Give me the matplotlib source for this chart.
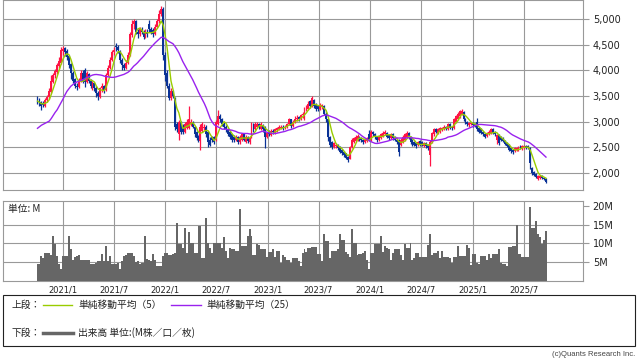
import numpy as np
import pandas as pd
import matplotlib
matplotlib.use("Agg")
import matplotlib.pyplot as plt
import matplotlib.dates as mdates
from matplotlib.lines import Line2D
from matplotlib.ticker import FuncFormatter

# weekly candles, first week ending 2020-10-02
opens = [
    3450, 3420, 3380, 3360, 3300, 3420, 3470, 3580, 3780, 3900,
    3960, 4080, 4150, 4380, 4430, 4380, 4280, 4120, 3950, 3820,
    3700, 3680, 3800, 3950, 4000, 3780, 3920, 3800, 3700, 3750,
    3650, 3560, 3480, 3650, 3700, 3620, 3900, 4050, 4200, 4350,
    4480, 4450, 4380, 4200, 4100, 4050, 4150, 4300, 4680, 4900,
    4950, 4750, 4700, 4800, 4750, 4650, 4750, 4900, 4800, 4780,
    4700, 4850, 4950, 5100, 5200, 4300, 3950, 3700, 3450, 3600,
    3450, 2950, 2750, 3000, 2900, 2800, 2880, 2870, 2950, 3000,
    2900, 2800, 2700, 2620, 2820, 2870, 2900, 2800, 2650, 2700,
    2700, 2650, 2950, 3100, 3050, 2950, 2900, 2850, 2800, 2750,
    2700, 2650, 2700, 2600, 2650, 2750, 2600, 2700, 2600, 2700,
    2950, 2850, 2900, 2950, 2850, 2920, 2900, 2700, 2780, 2740,
    2820, 2780, 2830, 2850, 2880, 2900, 2870, 2890, 2950, 3050,
    2920, 3000, 3050, 3090, 3060, 3120, 3080, 3250, 3250, 3400,
    3300, 3420, 3340, 3300, 3250, 3280, 3300, 3150, 3050, 2700,
    2600, 2500, 2520, 2550, 2500, 2450, 2400, 2380, 2320, 2280,
    2500, 2600, 2620, 2650, 2700, 2680, 2650, 2600, 2620, 2750,
    2650, 2800, 2750, 2700, 2650, 2680, 2720, 2750, 2780, 2730,
    2680, 2750, 2700, 2650, 2650, 2550, 2600, 2650, 2700, 2780,
    2700, 2650, 2600, 2580, 2550, 2620, 2600, 2530, 2580, 2550,
    2350, 2600, 2750, 2850, 2780, 2800, 2830, 2850, 2900, 2850,
    2950, 2900, 2880, 3000, 3050, 3100, 3150, 3180, 3050, 3000,
    2930, 2950, 2980, 2950, 3000, 2880, 2850, 2800, 2750, 2720,
    2750, 2780, 2850, 2800, 2650, 2730, 2700, 2680, 2620, 2580,
    2550, 2480, 2450, 2420, 2440, 2450, 2520, 2470, 2480, 2530,
    2520, 2480, 2100, 2020, 1980, 1880, 1900, 1940, 1910, 1880,
]
highs = [
    3500, 3460, 3400, 3400, 3450, 3520, 3650, 3900, 3950, 4020,
    4150, 4250, 4450, 4480, 4460, 4420, 4300, 4150, 3980, 3850,
    3760, 3850, 4000, 4000, 4050, 3980, 3950, 3830, 3790, 3780,
    3700, 3600, 3680, 3750, 3720, 3950, 4100, 4250, 4400, 4450,
    4530, 4500, 4400, 4230, 4150, 4200, 4350, 4750, 4980, 5000,
    4980, 4800, 4850, 4850, 4780, 4800, 4800, 4980, 4850, 4820,
    4900, 5000, 5180, 5250, 5230, 4350, 4000, 3750, 3650, 3620,
    3480, 3000, 3040, 3020, 2950, 3000, 3050, 3300, 3060, 3020,
    2920, 2820, 2730, 2950, 3000, 2950, 2930, 2820, 2700, 2720,
    2720, 3030, 3230, 3150, 3080, 2990, 2930, 2870, 2820, 2760,
    2730, 2740, 2720, 2730, 2780, 2770, 2730, 2720, 2700, 2990,
    2980, 3000, 3000, 2980, 2990, 2950, 2920, 2800, 2830, 2850,
    2850, 2870, 2900, 2930, 2940, 2930, 2930, 2980, 3080, 3060,
    3030, 3100, 3120, 3110, 3150, 3180, 3290, 3320, 3400, 3430,
    3500, 3440, 3360, 3330, 3360, 3350, 3320, 3180, 3060, 2720,
    2620, 2600, 2580, 2570, 2520, 2470, 2420, 2390, 2340, 2530,
    2680, 2700, 2730, 2760, 2720, 2700, 2670, 2680, 2700, 2840,
    2830, 2820, 2770, 2720, 2730, 2780, 2810, 2840, 2800, 2750,
    2780, 2770, 2720, 2680, 2660, 2680, 2730, 2780, 2820, 2800,
    2720, 2660, 2620, 2600, 2630, 2640, 2620, 2600, 2600, 2570,
    2650, 2800, 2880, 2870, 2870, 2890, 2900, 2930, 2920, 2970,
    2970, 2920, 3080, 3130, 3180, 3230, 3240, 3200, 3070, 3020,
    2990, 3000, 3000, 2970, 3070, 2900, 2870, 2820, 2780, 2800,
    2830, 2870, 2870, 2820, 2760, 2750, 2720, 2700, 2640, 2600,
    2570, 2500, 2470, 2500, 2510, 2520, 2540, 2540, 2550, 2550,
    2540, 2500, 2120, 2040, 2000, 1970, 1960, 1960, 1930, 1900,
]
lows = [
    3350, 3300, 3230, 3280, 3280, 3380, 3440, 3560, 3750, 3850,
    3920, 4050, 4120, 4300, 4280, 4200, 4050, 3820, 3750, 3650,
    3620, 3650, 3780, 3750, 3680, 3750, 3760, 3650, 3620, 3600,
    3480, 3420, 3450, 3580, 3560, 3600, 3880, 4020, 4180, 4300,
    4380, 4330, 4150, 4000, 4000, 4020, 4120, 4280, 4650, 4800,
    4700, 4620, 4660, 4700, 4600, 4620, 4650, 4750, 4700, 4650,
    4680, 4820, 4920, 5050, 4200, 3800, 3650, 3420, 3420, 3450,
    2830, 2800, 2650, 2760, 2750, 2780, 2850, 2850, 2920, 2870,
    2700, 2650, 2600, 2450, 2800, 2830, 2700, 2500, 2520, 2600,
    2560, 2630, 2930, 3000, 2920, 2860, 2800, 2720, 2660, 2600,
    2600, 2620, 2560, 2570, 2620, 2620, 2580, 2580, 2570, 2680,
    2800, 2830, 2880, 2860, 2830, 2800, 2480, 2680, 2720, 2720,
    2760, 2760, 2800, 2830, 2850, 2840, 2850, 2870, 2930, 2880,
    2900, 2980, 3020, 3020, 3040, 3080, 3040, 3200, 3220, 3260,
    3280, 3260, 3200, 3210, 3220, 3250, 3120, 3000, 2620, 2500,
    2470, 2480, 2490, 2450, 2380, 2350, 2310, 2270, 2220, 2270,
    2480, 2580, 2600, 2630, 2620, 2610, 2570, 2580, 2600, 2620,
    2630, 2720, 2670, 2600, 2630, 2660, 2700, 2730, 2680, 2650,
    2660, 2650, 2620, 2570, 2330, 2520, 2580, 2630, 2680, 2670,
    2570, 2520, 2520, 2490, 2530, 2520, 2530, 2510, 2490, 2450,
    2130, 2580, 2720, 2770, 2760, 2780, 2810, 2830, 2830, 2830,
    2850, 2840, 2860, 2980, 3030, 3080, 3120, 3020, 2950, 2920,
    2900, 2930, 2900, 2890, 2820, 2770, 2750, 2720, 2680, 2700,
    2730, 2760, 2750, 2720, 2560, 2550, 2620, 2600, 2540, 2500,
    2420, 2380, 2370, 2400, 2420, 2430, 2460, 2450, 2460, 2470,
    2460, 2070, 1970, 1940, 1900, 1870, 1880, 1880, 1860, 1800,
]
closes = [
    3400, 3350, 3300, 3330, 3420, 3480, 3600, 3800, 3900, 3980,
    4100, 4180, 4400, 4420, 4350, 4250, 4100, 3950, 3800, 3700,
    3680, 3800, 3950, 3800, 3780, 3950, 3800, 3700, 3750, 3650,
    3550, 3500, 3650, 3700, 3620, 3900, 4050, 4200, 4350, 4400,
    4450, 4400, 4200, 4100, 4050, 4150, 4300, 4700, 4900, 4950,
    4750, 4700, 4800, 4750, 4650, 4750, 4700, 4800, 4750, 4700,
    4850, 4950, 5100, 5200, 4300, 3900, 3700, 3450, 3600, 3500,
    2900, 2850, 3000, 2800, 2800, 2950, 3000, 3050, 3000, 2900,
    2750, 2680, 2650, 2900, 2950, 2900, 2750, 2600, 2550, 2650,
    2600, 3000, 3100, 3050, 2950, 2900, 2850, 2750, 2700, 2650,
    2650, 2700, 2600, 2700, 2750, 2650, 2700, 2620, 2680, 2950,
    2850, 2950, 2950, 2900, 2950, 2850, 2700, 2780, 2750, 2820,
    2790, 2850, 2870, 2900, 2900, 2870, 2900, 2950, 3050, 2920,
    3000, 3050, 3080, 3060, 3120, 3150, 3250, 3280, 3350, 3300,
    3450, 3300, 3250, 3250, 3330, 3320, 3150, 3050, 2700, 2550,
    2500, 2580, 2550, 2480, 2400, 2380, 2350, 2300, 2260, 2500,
    2650, 2680, 2700, 2720, 2650, 2640, 2600, 2650, 2680, 2650,
    2800, 2750, 2700, 2640, 2700, 2750, 2780, 2800, 2700, 2680,
    2750, 2680, 2650, 2600, 2400, 2650, 2700, 2750, 2780, 2700,
    2600, 2550, 2550, 2520, 2600, 2550, 2560, 2580, 2520, 2480,
    2600, 2780, 2850, 2800, 2850, 2870, 2880, 2900, 2860, 2950,
    2880, 2870, 3050, 3100, 3150, 3200, 3200, 3050, 2980, 2950,
    2970, 2980, 2930, 2920, 2850, 2800, 2780, 2750, 2700, 2780,
    2800, 2850, 2780, 2750, 2740, 2580, 2650, 2620, 2560, 2520,
    2450, 2420, 2400, 2480, 2480, 2500, 2480, 2520, 2530, 2490,
    2480, 2200, 2000, 1960, 1930, 1950, 1940, 1900, 1880, 1820,
]
# weekly volume, millions
volumes = [
    4.6, 4.6, 6.6, 6.0, 7.4, 7.5, 7.5, 7.0, 12.0, 9.8,
    6.6, 4.6, 3.1, 6.7, 6.7, 6.7, 12.0, 8.4, 5.7, 6.3,
    6.6, 7.0, 5.7, 5.7, 5.7, 5.7, 5.7, 4.6, 4.6, 4.4,
    4.9, 5.3, 5.3, 7.2, 5.3, 9.2, 5.3, 6.6, 4.6, 4.6,
    4.6, 4.9, 3.1, 5.3, 6.7, 7.0, 7.5, 7.5, 7.5, 6.7,
    5.0, 5.3, 4.4, 4.9, 4.9, 12.0, 5.8, 5.5, 5.3, 7.2,
    5.5, 4.0, 4.0, 4.0, 6.7, 7.5, 7.5, 7.0, 7.0, 7.2,
    7.5, 15.5, 9.8, 9.8, 8.8, 14.1, 7.5, 13.0, 10.2, 10.2,
    7.5, 7.5, 14.7, 14.7, 6.2, 6.2, 16.8, 10.2, 8.8, 7.5,
    10.2, 10.0, 10.0, 10.0, 8.8, 11.6, 8.0, 6.2, 8.8, 8.4,
    8.4, 8.0, 8.0, 19.1, 9.4, 9.2, 9.2, 12.0, 13.8, 11.9,
    7.0, 7.0, 9.8, 9.6, 8.4, 8.6, 8.6, 6.5, 7.8, 7.8,
    8.4, 6.5, 8.0, 8.0, 4.9, 7.0, 6.5, 5.7, 5.7, 4.9,
    6.2, 6.0, 6.0, 5.3, 3.9, 7.5, 8.4, 7.8, 8.8, 8.8,
    9.1, 9.1, 9.1, 7.2, 7.2, 5.3, 12.4, 10.6, 10.6, 6.2,
    8.0, 8.0, 8.0, 8.4, 12.5, 11.0, 11.0, 7.8, 7.2, 6.5,
    13.8, 10.2, 10.2, 7.0, 7.2, 7.2, 7.5, 8.0, 5.7, 3.1,
    7.5, 7.5, 9.8, 9.8, 9.8, 12.0, 7.8, 9.3, 8.8, 8.6,
    5.7, 7.5, 8.4, 8.4, 8.4, 7.0, 5.7, 9.8, 8.8, 8.8,
    10.2, 5.5, 6.2, 7.5, 7.5, 6.4, 6.4, 6.5, 6.5, 9.5,
    12.4, 7.0, 7.5, 7.5, 7.9, 6.2, 7.9, 6.5, 6.5, 6.5,
    6.2, 4.9, 6.5, 6.5, 9.3, 6.7, 6.7, 6.7, 6.7, 9.6,
    8.8, 4.2, 7.2, 7.2, 4.9, 4.4, 6.7, 6.7, 6.7, 5.5,
    7.2, 6.2, 7.2, 7.2, 7.2, 8.4, 4.9, 4.6, 4.6, 3.9,
    9.1, 9.0, 9.3, 9.3, 14.8, 7.3, 7.3, 6.5, 6.5, 6.3,
    6.3, 19.8, 14.1, 14.1, 16.1, 12.4, 11.7, 9.8, 10.8, 13.4,
]
# 25-week average for the first weeks (history before the window)
ma25_head = [
    2870, 2900, 2930, 2950, 2970, 2990, 3010, 3060, 3120, 3180,
    3230, 3300, 3370, 3440, 3520, 3590, 3640, 3690, 3720, 3750,
    3770, 3785, 3800, 3815,
]
tick_dates = ["2021-01-01", "2021-07-01", "2022-01-01", "2022-07-01", "2023-01-01",
              "2023-07-01", "2024-01-01", "2024-07-01", "2025-01-01", "2025-07-01"]
tick_labels = ["2021/1", "2021/7", "2022/1", "2022/7", "2023/1",
               "2023/7", "2024/1", "2024/7", "2025/1", "2025/7"]

UP = "#ff1446"
DOWN = "#0a3296"
MA5_COL = "#99cc00"
MA25_COL = "#9922ee"
VOL_COL = "#666666"
GRID = "#999999"
JP = ["Noto Sans CJK JP", "DejaVu Sans"]

W, H = 638, 362
plt.rcParams["font.family"] = ["DejaVu Sans", "Noto Sans CJK JP"]

o = np.array(opens, float)
h = np.array(highs, float)
l = np.array(lows, float)
c = np.array(closes, float)
weeks = pd.date_range("2020-10-02", periods=len(c), freq="7D")
s = pd.Series(c, index=weeks)
ma5 = s.rolling(5, min_periods=1).mean()
ma25 = s.rolling(25).mean()
ma25.iloc[:len(ma25_head)] = ma25_head

fig = plt.figure(figsize=(W / 100, H / 100), dpi=100)
ax1 = fig.add_axes([3 / W, 1 - 190 / H, 580 / W, 190 / H])
ax2 = fig.add_axes([3 / W, 1 - 281 / H, 580 / W, 80 / H])

x0 = mdates.date2num(pd.Timestamp("2021-01-01"))
xlim = (x0 - 214, x0 + 1854)
ticks = [pd.Timestamp(t) for t in tick_dates]

# --- price panel
colors = np.where(c >= o, UP, DOWN)
ax1.vlines(weeks, l, h, colors=colors, lw=0.9, zorder=3)
body = np.maximum(np.abs(c - o), 15)
ax1.bar(weeks, body, bottom=np.minimum(o, c), width=6.8, color=colors,
        linewidth=0, zorder=3)
ax1.plot(weeks, ma5.values, color=MA5_COL, lw=1, zorder=4)
ax1.plot(weeks, ma25.values, color=MA25_COL, lw=1, zorder=4)

ax1.set_xlim(xlim)
ax1.set_ylim(1669, 5367)
ax1.set_yticks([2000, 2500, 3000, 3500, 4000, 4500, 5000])
ax1.yaxis.set_major_formatter(FuncFormatter(lambda v, p: f"{v:,.0f}"))
ax1.yaxis.tick_right()
ax1.set_xticks(ticks)
ax1.tick_params(axis="x", length=0, labelbottom=False)
ax1.tick_params(axis="y", length=4, width=0.8, color=GRID, labelsize=7,
                labelcolor="#222222", pad=3)
ax1.grid(True, color=GRID, lw=0.8, zorder=0)
ax1.set_axisbelow(True)

# --- volume panel
ax2.bar(weeks, volumes, width=7.0, color=VOL_COL, linewidth=0, zorder=3)
ax2.set_xlim(xlim)
ax2.set_ylim(0, 21.3)
ax2.set_yticks([5, 10, 15, 20])
ax2.yaxis.set_major_formatter(FuncFormatter(lambda v, p: f"{v:.0f}M"))
ax2.yaxis.tick_right()
for v in (5, 10, 15):
    ax2.axhline(v, color=GRID, lw=0.8, zorder=0)
ax2.set_xticks(ticks)
ax2.set_xticklabels(tick_labels)
ax2.grid(True, axis="x", color=GRID, lw=0.8, zorder=0)
ax2.tick_params(axis="x", length=0, labelsize=6, labelcolor="#222222", pad=3)
ax2.tick_params(axis="y", length=4, width=0.8, color=GRID, labelsize=7,
                labelcolor="#222222", pad=3)
ax2.text(5 / 580, 0.9, "単位: M", transform=ax2.transAxes, fontsize=7,
         family=JP, ha="left", va="center", color="#222222")

for ax in (ax1, ax2):
    for sp in ax.spines.values():
        sp.set_color(GRID)
        sp.set_linewidth(0.8)

# --- legend box
box = plt.Rectangle((3 / W, 1 - 346 / H), 632 / W, 51 / H, transform=fig.transFigure,
                    fill=False, edgecolor="#222222", lw=0.8)
fig.patches.append(box)


def fx(x):
    return x / W


def fy(y):
    return 1 - y / H


fig.text(fx(12), fy(305), "上段：", family=JP, fontsize=7, va="center", color="#222222")
fig.lines.append(Line2D([fx(43), fx(72)], [fy(305), fy(305)], transform=fig.transFigure,
                        color=MA5_COL, lw=1))
fig.text(fx(78), fy(305), "単純移動平均（5）", family=JP, fontsize=7, va="center",
         color="#222222")
fig.lines.append(Line2D([fx(171), fx(201)], [fy(305), fy(305)], transform=fig.transFigure,
                        color=MA25_COL, lw=1))
fig.text(fx(206), fy(305), "単純移動平均（25）", family=JP, fontsize=7, va="center",
         color="#222222")
fig.text(fx(12), fy(333), "下段：", family=JP, fontsize=7, va="center", color="#222222")
fig.lines.append(Line2D([fx(43), fx(73)], [fy(333), fy(333)], transform=fig.transFigure,
                        color=VOL_COL, lw=2.5))
fig.text(fx(78), fy(333), "出来高 単位:(M株／口／枚)", family=JP, fontsize=7,
         va="center", color="#222222")

fig.text(fx(635), fy(355), "(c)Quants Research Inc.", ha="right", va="center",
         family="Liberation Sans", fontsize=5.5, color="#444444")

fig.savefig("out.png", dpi=100)
